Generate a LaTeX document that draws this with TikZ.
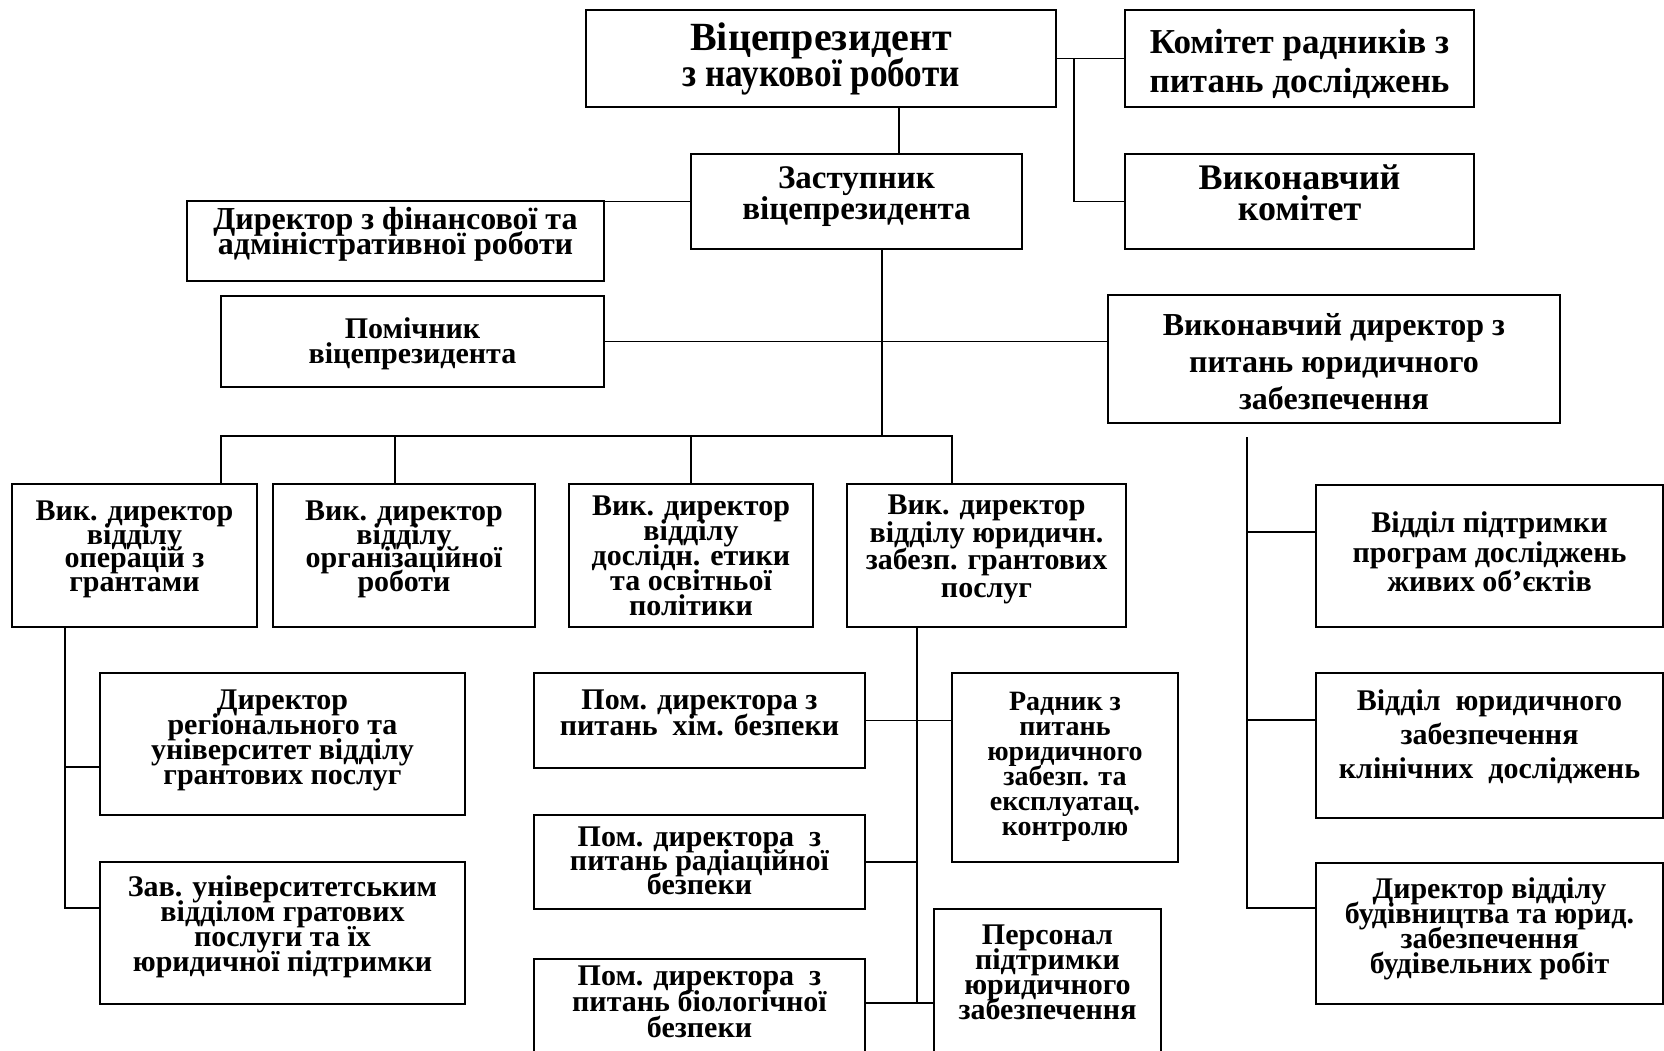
\documentclass[tikz,border=0pt]{standalone}
\usepackage{fontspec}
\setmainfont{Liberation Serif}
\usetikzlibrary{calc}
\newcommand\mlines[4]{\raisebox{#3}[\height][\depth]{\fontsize{#1}{#2}\selectfont\vbox{\lineskiplimit=-100pt\lineskip=0pt\halign{\hfil##\hfil\cr#4\crcr}}}}
\begin{document}
\begin{tikzpicture}[x=1pt,y=-1pt,
  bx/.style={draw, line width=2.2pt, inner sep=0pt, rectangle, font=\bfseries},
  ln/.style={line width=1.8pt}]
\useasboundingbox (0,0) rectangle (1664,1051);
\clip (0,0) rectangle (1664,1051);
% boxes
\node[bx,minimum width=470pt,minimum height=97pt] (vp) at (821,58.5) {\mlines{40}{36}{0pt}{Віцепрезидент\cr {\addfontfeatures{FakeStretch=0.88}з наукової роботи}}};
\node[bx,minimum width=349pt,minimum height=97pt] (kom) at (1299.5,58.5) {\mlines{35}{39}{-5pt}{Комітет радників з\cr питань досліджень}};
\node[bx,minimum width=349pt,minimum height=95pt] (vkom) at (1299.5,201.5) {\mlines{36}{31}{9pt}{Виконавчий\cr комітет}};
\node[bx,minimum width=331pt,minimum height=95pt] (zast) at (856.5,201.5) {\mlines{33}{31}{5pt}{Заступник\cr віцепрезидента}};
\node[bx,minimum width=417pt,minimum height=80pt] (fin) at (395.5,241) {\mlines{32}{25.5}{6.5pt}{Директор з фінансової та\cr адміністративної роботи}};
\node[bx,minimum width=383pt,minimum height=91pt] (pom) at (412.5,341.5) {\mlines{30}{25.5}{-2.5pt}{Помічник\cr віцепрезидента}};
\node[bx,minimum width=452pt,minimum height=128pt] (vdir) at (1334,359) {\mlines{32}{37}{-3pt}{Виконавчий директор з\cr питань юридичного\cr забезпечення}};
\node[bx,minimum width=245pt,minimum height=143pt] (b1) at (134.5,555.5) {\mlines{30}{23.7}{6pt}{Вик. директор\cr відділу\cr операцій з\cr грантами}};
\node[bx,minimum width=262pt,minimum height=143pt] (b2) at (404,555.5) {\mlines{30}{23.7}{6pt}{Вик. директор\cr відділу\cr організаційної\cr роботи}};
\node[bx,minimum width=244pt,minimum height=143pt] (b3) at (691,555.5) {\mlines{30}{25}{0pt}{Вик. директор\cr відділу\cr дослідн. етики\cr та освітньої\cr політики}};
\node[bx,minimum width=279pt,minimum height=143pt] (b4) at (986.5,555.5) {\mlines{30}{27.6}{6pt}{Вик. директор\cr відділу юридичн.\cr забезп. грантових\cr послуг}};
\node[bx,minimum width=347pt,minimum height=142pt] (r1) at (1489.5,556) {\mlines{30}{29.7}{4pt}{Відділ підтримки\cr програм досліджень\cr живих об’єктів}};
\node[bx,minimum width=347pt,minimum height=145pt] (r2) at (1489.5,745.5) {\mlines{30}{34}{9pt}{Відділ\ \ юридичного\cr забезпечення\cr клінічних\ \ досліджень}};
\node[bx,minimum width=347pt,minimum height=141pt] (r3) at (1489.5,933.5) {\mlines{30}{25.1}{4.5pt}{Директор відділу\cr будівництва та юрид.\cr забезпечення\cr будівельних робіт}};
\node[bx,minimum width=365pt,minimum height=142pt] (l1) at (282.5,744) {\mlines{30}{24.8}{3.5pt}{Директор\cr регіонального та\cr університет відділу\cr грантових послуг}};
\node[bx,minimum width=365pt,minimum height=142pt] (l2) at (282.5,933) {\mlines{30}{25.1}{6pt}{Зав. університетським\cr відділом гратових\cr послуги та їх\cr юридичної підтримки}};
\node[bx,minimum width=331pt,minimum height=95pt] (m1) at (699.5,720.5) {\mlines{30}{25.5}{7.5pt}{Пом. директора з\cr питань\ \ хім. безпеки}};
\node[bx,minimum width=331pt,minimum height=94pt] (m2) at (699.5,862) {\mlines{30}{24}{1pt}{Пом. директора\ \ з\cr питань радіаційної\cr безпеки}};
\node[bx,minimum width=331pt,minimum height=111pt] (m3) at (699.5,1014.5) {\mlines{30}{26}{13pt}{Пом. директора\ \ з\cr питань біологічної\cr безпеки}};
\node[bx,minimum width=226pt,minimum height=189pt] (rad) at (1065,767.5) {\mlines{28}{25}{0.5pt}{Радник з\cr питань\cr юридичного\cr забезп. та\cr експлуатац.\cr контролю}};
\node[bx,minimum width=227pt,minimum height=161pt] (pers) at (1047.5,989.5) {\mlines{30}{25.1}{17pt}{Персонал\cr підтримки\cr юридичного\cr забезпечення}};
% connectors top
\draw[ln] (vp.east) -- (kom.west);
\coordinate (j1) at (1074,58.5);
\draw[ln] (j1) |- (vkom.west);
\draw[ln] ([xshift=78pt]vp.south) -- ([xshift=42.5pt]zast.north);
\draw[ln] (zast.west) -- (zast.west -| fin.east);
\coordinate (zt) at ([xshift=25.5pt]zast.south);
\coordinate (bus) at (882,437);
\draw[ln] (zt) -- (bus);
\draw[ln] (pom.east) -- (pom.east -| vdir.west);
\draw[ln] ([xshift=86.5pt]b1.north) -- ++(0,-47) -| ([xshift=-34.5pt]b4.north);
\draw[ln] ([xshift=-9pt]b2.north) -- ++(0,-47);
\draw[ln] (b3.north) -- ++(0,-47);
% right column
\coordinate (rt) at (1247,437);
\coordinate (r1c) at ([yshift=24pt]r1.west);
\coordinate (r2c) at ([yshift=25.5pt]r2.west);
\coordinate (r3c) at ([yshift=25.5pt]r3.west);
\draw[ln] (rt) |- (r3c);
\draw[ln] (rt |- r1c) -- (r1c);
\draw[ln] (rt |- r2c) -- (r2c);
% left column
\coordinate (lt) at ([xshift=-69.5pt]b1.south);
\coordinate (l1c) at ([yshift=-23pt]l1.west);
\coordinate (l2c) at ([yshift=25pt]l2.west);
\draw[ln] (lt) |- (l2c);
\draw[ln] (lt |- l1c) -- (l1c);
% middle column
\coordinate (mt) at ([xshift=-69.5pt]b4.south);
\coordinate (m3c) at ([yshift=11.5pt]m3.east);
\draw[ln] (mt) -- (mt |- m3c);
\draw[ln] (m1.east) -- (m1.east -| rad.west);
\draw[ln] (m2.east) -- (m2.east -| mt);
\draw[ln] (m3c) -- (m3c -| pers.west);
\end{tikzpicture}
\end{document}
